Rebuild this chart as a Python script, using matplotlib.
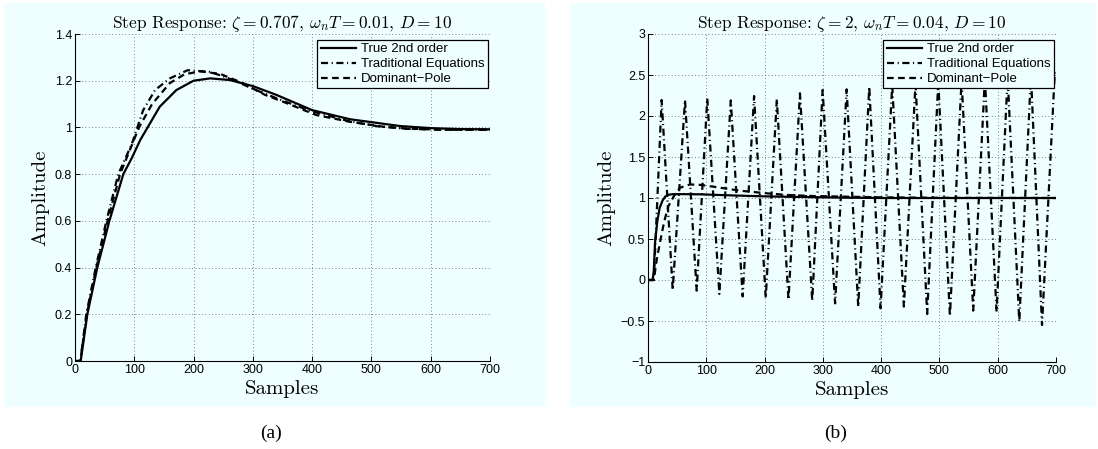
import numpy as np
import matplotlib
matplotlib.use('Agg')
from matplotlib import pyplot as plt
from matplotlib.patches import Rectangle

plt.rcParams['font.family'] = ['Liberation Sans', 'DejaVu Sans']
plt.rcParams['mathtext.fontset'] = 'cm'

panel_bg = '#EFFEFE'

# (a) zeta = 0.707, wnT = 0.01
a_true_x = [0, 9.6, 20.8, 37.6, 58, 81.5, 95.6, 110, 143, 171, 200, 228, 261, 300, 340, 400, 464, 548, 600, 650, 700]
a_true_y = [0, 0, 0.2, 0.4, 0.6, 0.8, 0.868, 0.946, 1.089, 1.16, 1.20, 1.21, 1.203, 1.177, 1.139, 1.074, 1.035, 1.006, 0.997, 0.993, 0.992]

a_trad_x = [0, 9, 19, 35, 53, 73, 96, 115, 135, 160, 190, 228, 270, 300, 350, 400, 460, 510, 560, 620, 700]
a_trad_y = [0, 0, 0.2, 0.4, 0.6, 0.8, 0.93, 1.074, 1.16, 1.21, 1.245, 1.238, 1.20, 1.165, 1.115, 1.068, 1.028, 1.005, 0.994, 0.99, 0.99]

a_dom_x = [0, 9, 20, 36, 55, 76, 92, 108, 130, 160, 185, 212, 245, 283, 320, 351, 407, 464, 520, 560, 620, 700]
a_dom_y = [0, 0, 0.2, 0.4, 0.6, 0.8, 0.9, 1.0, 1.1, 1.19, 1.228, 1.24, 1.229, 1.19, 1.14, 1.11, 1.053, 1.024, 1.003, 0.995, 0.99, 0.99]

# (b) zeta = 2, wnT = 0.04
b_true_x = [0, 8, 10, 12, 16, 20, 25, 30, 35, 45, 89, 150, 200, 280, 341, 400, 500, 700]
b_true_y = [0, 0, 0.12, 0.45, 0.72, 0.88, 0.97, 1.02, 1.04, 1.048, 1.045, 1.03, 1.02, 1.01, 1.004, 1.0, 1.0, 1.0]

b_dom_x = [0, 10, 15, 21.7, 28, 35, 45, 55, 72, 90, 112, 158, 204, 238, 284, 341, 400, 500, 700]
b_dom_y = [0, 0, 0.25, 0.5, 0.72, 0.9, 1.03, 1.126, 1.165, 1.16, 1.138, 1.089, 1.057, 1.037, 1.024, 1.016, 1.008, 1.002, 1.0]

# traditional equations oscillate: start, peaks and troughs
b_trad_start_x = [0, 10]
b_trad_start_y = [0, 0]
b_peak_x = [23.4, 63.5, 101.7, 142, 182, 221, 260.7, 299.6, 340.8, 379.6, 419, 459, 498, 538, 578, 617, 657, 698]
b_peak_y = [2.195, 2.195, 2.216, 2.19, 2.244, 2.203, 2.277, 2.317, 2.325, 2.357, 2.38, 2.40, 2.42, 2.44, 2.46, 2.48, 2.50, 2.54]
b_trough_x = [42.4, 83.5, 122.4, 162.4, 202, 241, 281.8, 321, 360.7, 399, 439, 479, 518, 558, 598, 637, 676]
b_trough_y = [-0.122, -0.13, -0.17, -0.2, -0.22, -0.24, -0.256, -0.285, -0.325, -0.345, -0.325, -0.415, -0.44, -0.374, -0.387, -0.51, -0.549]

labels = ['True 2nd order', 'Traditional Equations', 'Dominant\u2212Pole']
titles = [r'Step Response: $\zeta = 0.707$, $\omega_n T = 0.01$, $D = 10$',
          r'Step Response: $\zeta = 2$, $\omega_n T = 0.04$, $D = 10$']

def merge_extrema():
    xs = np.concatenate([b_trad_start_x, b_peak_x, b_trough_x])
    ys = np.concatenate([b_trad_start_y, b_peak_y, b_trough_y])
    order = np.argsort(xs)
    return xs[order], ys[order]

b_trad_x, b_trad_y = merge_extrema()

fig = plt.figure(figsize=(10.98, 4.49), dpi=100)
fig.patch.set_facecolor('white')

# tinted panels behind each subplot
for x0, x1 in [(3.5, 545), (570, 1096)]:
    fig.add_artist(Rectangle((x0 / 1098, 1 - 407 / 449), (x1 - x0) / 1098, 404 / 449,
                             transform=fig.transFigure, facecolor=panel_bg,
                             edgecolor='none', zorder=-10))

ax1 = fig.add_axes([75 / 1098, 1 - 361 / 449, 415 / 1098, 327 / 449])
ax2 = fig.add_axes([648 / 1098, 1 - 362 / 449, 408 / 1098, 328 / 449])

dash = (0, (3, 2))
dashdot = (0, (3.2, 1.6, 0.5, 1.6))
lw = 1.6

def style_axes(ax, ylim, yticks, title):
    ax.set_facecolor(panel_bg)
    ax.set_xlim(0, 700)
    ax.set_ylim(*ylim)
    ax.set_xticks(np.arange(0, 701, 100))
    ax.set_yticks(yticks)
    ax.spines['top'].set_visible(False)
    ax.spines['right'].set_visible(False)
    for s in ['left', 'bottom']:
        ax.spines[s].set_linewidth(0.8)
    ax.tick_params(direction='in', length=3.5, width=0.7, labelsize=9, pad=2)
    ax.grid(True, linestyle=(0, (1, 3)), linewidth=0.6, color='0.35')
    ax.set_axisbelow(True)
    ax.set_title(title, fontfamily='cmr10', fontsize=12.5, pad=4)
    ax.set_xlabel('Samples', fontfamily='cmr10', fontsize=15, labelpad=3)
    ax.set_ylabel('Amplitude', fontfamily='cmr10', fontsize=15, labelpad=4)
    leg = ax.legend(loc='upper right', bbox_to_anchor=(0.995, 0.982), borderaxespad=0,
                    fancybox=False, framealpha=1, edgecolor='black', fontsize=9.5,
                    handlelength=2.7, handletextpad=0.35, labelspacing=0.2, borderpad=0.25)
    leg.get_frame().set_facecolor(panel_bg)
    leg.get_frame().set_linewidth(0.9)

ax1.plot(a_true_x, a_true_y, color='black', lw=lw, label=labels[0])
ax1.plot(a_trad_x, a_trad_y, color='black', lw=lw, linestyle=dashdot, label=labels[1])
ax1.plot(a_dom_x, a_dom_y, color='black', lw=lw, linestyle=dash, label=labels[2])
style_axes(ax1, (0, 1.4), np.arange(0, 1.41, 0.2), titles[0])
ax1.set_yticklabels(['0', '0.2', '0.4', '0.6', '0.8', '1', '1.2', '1.4'])

ax2.plot(b_true_x, b_true_y, color='black', lw=lw, label=labels[0])
ax2.plot(b_trad_x, b_trad_y, color='black', lw=lw, linestyle=dashdot, label=labels[1])
ax2.plot(b_dom_x, b_dom_y, color='black', lw=lw, linestyle=dash, label=labels[2])
style_axes(ax2, (-1, 3), np.arange(-1, 3.01, 0.5), titles[1])
ax2.set_yticklabels(['\u22121', '\u22120.5', '0', '0.5', '1', '1.5', '2', '2.5', '3'])

fig.text(271 / 1098, 1 - 433 / 449, '(a)', fontfamily=['Liberation Serif'], fontsize=14,
         ha='center', va='center')
fig.text(836 / 1098, 1 - 433 / 449, '(b)', fontfamily=['Liberation Serif'], fontsize=14,
         ha='center', va='center')

fig.savefig('out.png', dpi=100)
